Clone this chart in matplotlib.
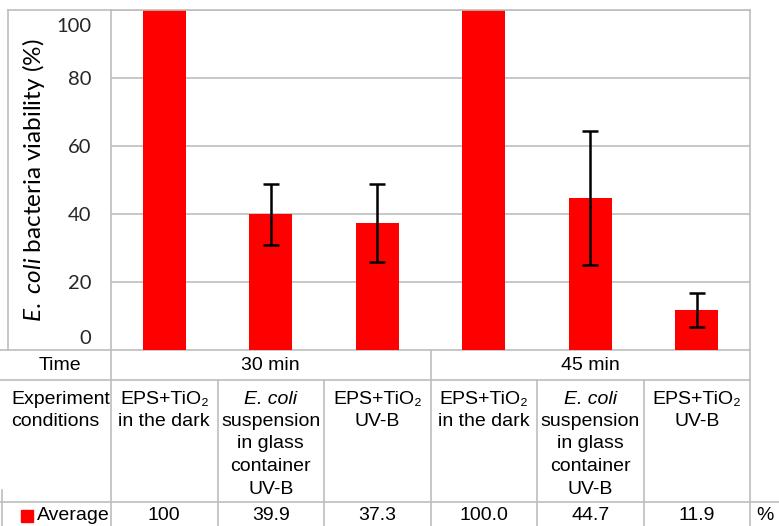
import matplotlib
matplotlib.use('Agg')
import matplotlib.pyplot as plt
import matplotlib.transforms as mtransforms
import numpy as np

# data
values = [100, 39.9, 37.3, 100.0, 44.7, 11.9]
errors = [0, 9.0, 11.5, 0, 19.7, 5.0]
value_labels = ['100', '39.9', '37.3', '100.0', '44.7', '11.9']
times = ['30 min', '45 min']
conditions = [
    [('EPS+TiO₂', False), ('in the dark', False)],
    [('E. coli', True), ('suspension', False), ('in glass', False), ('container', False), ('UV-B', False)],
    [('EPS+TiO₂', False), ('UV-B', False)],
]
yticks = [0, 20, 40, 60, 80, 100]

W, H = 779, 526
grey = '#bdbdbd'
red = '#ff0000'
tfont = ['Liberation Sans', 'DejaVu Sans']
fs = 14

plt.rcParams['mathtext.fontset'] = 'custom'
plt.rcParams['mathtext.rm'] = 'Lato'
plt.rcParams['mathtext.it'] = 'Lato:italic'

fig = plt.figure(figsize=(W / 100, H / 100), dpi=100)

# chart area in pixels
left, right, top, bottom = 111, 750, 10, 350
ax = fig.add_axes([left / W, (H - bottom) / H, (right - left) / W, (bottom - top) / H])
x = np.arange(len(values))
yerr = np.array(errors, dtype=float)
ax.bar(x, values, width=0.4, color=red, zorder=2)
mask = yerr > 0
ax.errorbar(x[mask], np.array(values)[mask], yerr=yerr[mask], fmt='none',
            ecolor='black', elinewidth=1.8, capsize=5.5, capthick=1.8, zorder=3)
ax.set_xlim(-0.5, len(values) - 0.5)
ax.set_ylim(0, 100)
ax.set_yticks(yticks)
ax.set_yticklabels([str(t) for t in yticks], family='Lato', fontsize=14.5, color='#262626')
ax.set_xticks([])
ax.tick_params(axis='y', length=0, pad=14)
# Excel pulls the end labels inward
ticks = ax.yaxis.get_major_ticks()
for tk, dy in [(ticks[0], 13), (ticks[-1], -15)]:
    lab = tk.label1
    lab.set_transform(lab.get_transform() + mtransforms.ScaledTranslation(0, dy / 100, fig.dpi_scale_trans))
ax.yaxis.grid(True, color=grey, linewidth=1.2, zorder=0)
for s in ax.spines.values():
    s.set_color(grey)
    s.set_linewidth(1.2)
ax.spines['bottom'].set_visible(False)
ax.set_ylabel(r'$\it{E.\ coli}$ bacteria viability (%)', family='Lato', fontsize=17.5, color='black')
ax.yaxis.set_label_coords((47 - left) / (right - left), 0.5)

# table underneath, x in category units, y in pixels
colw = (right - left) / len(values)
def cx(px):
    return -0.5 + (px - left) / colw

tab = fig.add_axes([0, 0, 1, 1], zorder=-1)
tab.set_xlim(cx(0), cx(W))
tab.set_ylim(H, 0)
tab.axis('off')
lw = 1.2
n = len(values)
# frame around the y label
tab.plot([cx(8), cx(8)], [top, bottom], color=grey, lw=lw)
tab.plot([cx(8), -0.5], [top, top], color=grey, lw=lw)
# horizontal rules
tab.plot([cx(0), n - 0.5], [bottom, bottom], color=grey, lw=lw)
tab.plot([cx(0), n - 0.5], [380, 380], color=grey, lw=lw)
tab.plot([cx(0), cx(W)], [502, 502], color=grey, lw=lw)
# vertical rules
for b in [-0.5, 2.5, n - 0.5]:
    tab.plot([b, b], [bottom, H], color=grey, lw=lw)
for b in [0.5, 1.5, 3.5, 4.5]:
    tab.plot([b, b], [380, H], color=grey, lw=lw)
tab.plot([cx(2), cx(2)], [490, H], color=grey, lw=lw)

tab.text(cx(60), 365, 'Time', ha='center', va='center', family=tfont, fontsize=fs)
for i, t in enumerate(times):
    tab.text(3 * i + 1, 365, t, ha='center', va='center', family=tfont, fontsize=fs)
tab.text(cx(11), 399, 'Experiment', ha='left', va='center', family=tfont, fontsize=fs)
tab.text(cx(11), 421, 'conditions', ha='left', va='center', family=tfont, fontsize=fs)
for i in range(n):
    for k, (line, ital) in enumerate(conditions[i % 3]):
        tab.text(i, 399 + 22.5 * k, line, ha='center', va='center', family=tfont,
                 fontsize=fs, style='italic' if ital else 'normal')
    tab.text(i, 516, value_labels[i], ha='center', va='center', family=tfont, fontsize=fs)
tab.plot([cx(26.5)], [516], marker='s', color=red, markersize=8)
tab.text(cx(37), 516, 'Average', ha='left', va='center', family=tfont, fontsize=fs)
tab.text(cx(765), 516, '%', ha='center', va='center', family=tfont, fontsize=fs)

fig.savefig('out.png', dpi=100)
